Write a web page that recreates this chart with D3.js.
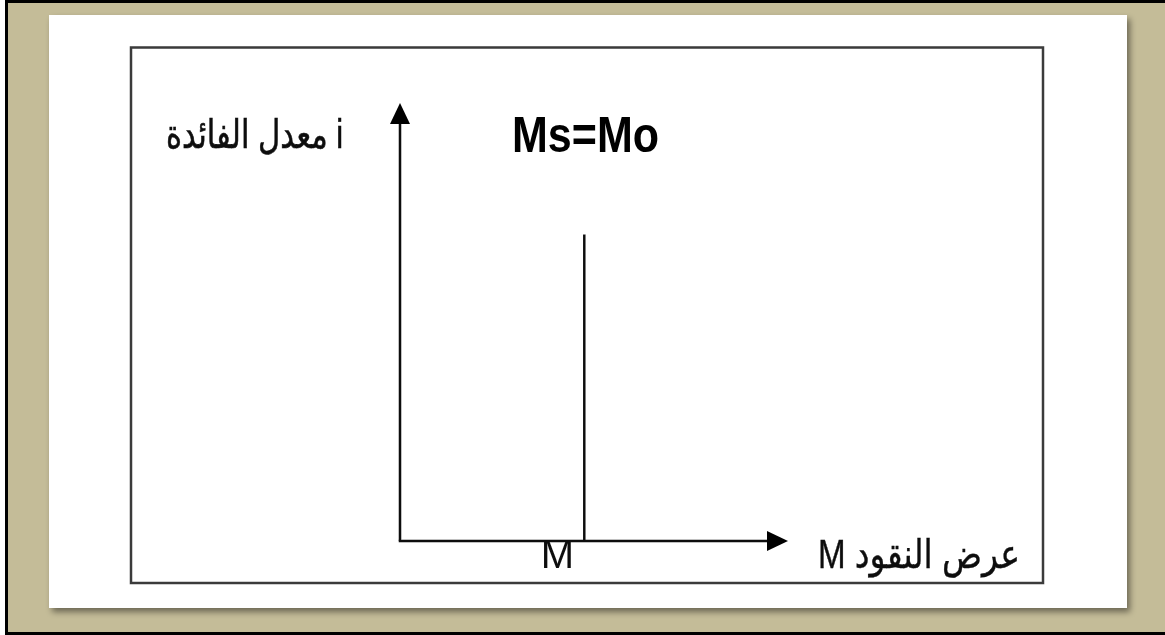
<!DOCTYPE html>
<html>
<head>
<meta charset="utf-8">
<script src="https://cdn.jsdelivr.net/npm/d3@7"></script>
<style>
  html, body { margin: 0; padding: 0; background: #ffffff; }
  svg { display: block; }
</style>
</head>
<body>
<svg id="chart" width="1165" height="635"></svg>
<script>
// Money market: a vertical (perfectly inelastic) money supply curve.
const axisDomain = [0, 100];          // both axes run 0..100 (abstract units)
const supplyQuantity = [47.5];        // M on the horizontal axis
const supplyRange = [0, 70];          // vertical extent of the supply line
const yAxisLabel = ["معدل الفائدة i"];
const xAxisLabel = ["M عرض النقود"];
const supplyTitle = ["Ms=Mo"];
const quantityTick = ["M"];

const svg = d3.select("#chart");
const W = 1165, H = 635;

// Drop shadow for the white card
const defs = svg.append("defs");
const f = defs.append("filter").attr("id", "cardShadow")
  .attr("x", "-5%").attr("y", "-5%").attr("width", "110%").attr("height", "112%");
f.append("feDropShadow").attr("dx", 3).attr("dy", 4).attr("stdDeviation", 3)
  .attr("flood-color", "#000").attr("flood-opacity", 0.45);
const soft = defs.append("filter").attr("id", "soft");
soft.append("feGaussianBlur").attr("stdDeviation", 0.5);

// Frame background
svg.append("rect").attr("x", 5).attr("y", 0).attr("width", W - 5).attr("height", H)
  .attr("fill", "#c4bc98");
svg.append("rect").attr("x", 5).attr("y", 0).attr("width", W - 5).attr("height", 3).attr("fill", "#000");
svg.append("rect").attr("x", 5).attr("y", 0).attr("width", 3).attr("height", H).attr("fill", "#000");
svg.append("rect").attr("x", 5).attr("y", 632).attr("width", W - 5).attr("height", 3).attr("fill", "#000");

// White card
svg.append("rect").attr("x", 49).attr("y", 15).attr("width", 1078).attr("height", 593)
  .attr("fill", "#ffffff").attr("filter", "url(#cardShadow)");

// Inner plot border
svg.append("rect").attr("x", 131).attr("y", 47.5).attr("width", 912).attr("height", 535.5)
  .attr("fill", "none").attr("stroke", "#3a3a3a").attr("stroke-width", 2.5)
  .attr("filter", "url(#soft)");

// Scales
const x = d3.scaleLinear().domain(axisDomain).range([400, 788]);
const y = d3.scaleLinear().domain(axisDomain).range([541, 103]);

const g = svg.append("g").attr("filter", "url(#soft)");

// Arrow heads
const arrowLen = 21, arrowHalf = 10;
// Y axis
g.append("line")
  .attr("x1", x(0)).attr("y1", y(0)).attr("x2", x(0)).attr("y2", y(100) + arrowLen - 2)
  .attr("stroke", "#111").attr("stroke-width", 2.5);
g.append("path")
  .attr("d", `M${x(0)},${y(100)} L${x(0) - arrowHalf},${y(100) + arrowLen} L${x(0) + arrowHalf},${y(100) + arrowLen} Z`)
  .attr("fill", "#000");
// X axis
g.append("line")
  .attr("x1", x(0) - 1.25).attr("y1", y(0)).attr("x2", x(100) - arrowLen + 2).attr("y2", y(0))
  .attr("stroke", "#111").attr("stroke-width", 2.5);
g.append("path")
  .attr("d", `M${x(100)},${y(0)} L${x(100) - arrowLen},${y(0) - arrowHalf} L${x(100) - arrowLen},${y(0) + arrowHalf} Z`)
  .attr("fill", "#000");

// Money supply line
g.selectAll("line.supply").data(supplyQuantity).enter().append("line")
  .attr("class", "supply")
  .attr("x1", d => x(d)).attr("x2", d => x(d))
  .attr("y1", y(supplyRange[0])).attr("y2", y(supplyRange[1]))
  .attr("stroke", "#111").attr("stroke-width", 2.5);

// Labels
const font = "'Liberation Sans', Arial, 'DejaVu Sans', sans-serif";
g.selectAll("text.ylab").data(yAxisLabel).enter().append("text")
  .attr("class", "ylab")
  .attr("x", 166).attr("y", 148)
  .attr("font-family", font).attr("font-size", 40)
  .attr("textLength", 177).attr("lengthAdjust", "spacingAndGlyphs")
  .attr("stroke", "#111").attr("stroke-width", 0.6)
  .attr("fill", "#111")
  .text(d => d);

g.selectAll("text.xlab").data(xAxisLabel).enter().append("text")
  .attr("class", "xlab")
  .attr("x", 818).attr("y", 568)
  .attr("font-family", font).attr("font-size", 40)
  .attr("textLength", 202).attr("lengthAdjust", "spacingAndGlyphs")
  .attr("stroke", "#111").attr("stroke-width", 0.4)
  .attr("fill", "#111")
  .text(d => d);

g.selectAll("text.title").data(supplyTitle).enter().append("text")
  .attr("class", "title")
  .attr("x", 512).attr("y", 152)
  .attr("font-family", font).attr("font-size", 50).attr("font-weight", "bold")
  .attr("textLength", 147).attr("lengthAdjust", "spacingAndGlyphs")
  .attr("fill", "#000")
  .text(d => d);

g.selectAll("text.qtick").data(quantityTick).enter().append("text")
  .attr("class", "qtick")
  .attr("x", x(supplyQuantity[0]) - 27).attr("y", 568)
  .attr("text-anchor", "middle")
  .attr("font-family", font).attr("font-size", 40)
  .attr("fill", "#111")
  .text(d => d);
</script>
</body>
</html>
